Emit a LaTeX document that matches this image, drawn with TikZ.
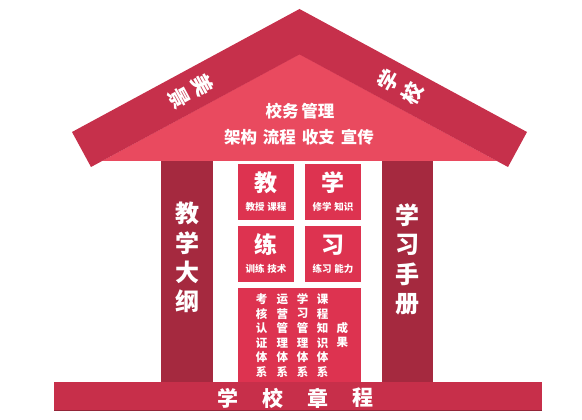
\documentclass[tikz,border=0pt]{standalone}
\usepackage{fontspec}
\newfontfamily\cjk{Noto Sans CJK SC}
\definecolor{roofband}{HTML}{C6304B}
\definecolor{rooflight}{HTML}{E94A5F}
\definecolor{pillar}{HTML}{A5293F}
\definecolor{boxred}{HTML}{DD3350}
\definecolor{basered}{HTML}{C72F4A}
\tikzset{
  txt/.style={text=white, inner sep=0pt, font=\cjk\bfseries},
  bigch/.style={txt, font=\cjk\bfseries\fontsize{23}{23}\selectfont},
  smallt/.style={txt, font=\cjk\bfseries\fontsize{9.5}{10}\selectfont},
  colch/.style={txt, font=\cjk\bfseries\fontsize{24}{24}\selectfont},
  roofch/.style={txt, align=center, font=\cjk\bfseries\fontsize{21}{27}\selectfont},
  rooft/.style={txt, font=\cjk\bfseries\fontsize{16.5}{17}\selectfont},
  gridch/.style={txt, font=\cjk\bfseries\fontsize{11.5}{11.5}\selectfont},
  basech/.style={txt, font=\cjk\bfseries\fontsize{21}{21}\selectfont},
  boxnode/.style={fill=boxred, minimum width=56pt, minimum height=56pt, inner sep=0pt, anchor=north west},
}
\begin{document}
\begin{tikzpicture}[x=1pt,y=-1pt]
\useasboundingbox (0,0) rectangle (582,420);
% roof light triangle
\fill[rooflight] (299.5,54) -- (102,161) -- (497,161) -- cycle;
% roof band
\fill[roofband] (72,132) -- (299.5,9) -- (527,132) -- (508,167) -- (299.5,54.4) -- (91,167) -- cycle;
% pillars
\fill[pillar] (161,161) rectangle (213,382);
\fill[pillar] (382,161) rectangle (433,382);
% middle boxes
\node[boxnode] (b1) at (238,164) {};
\node[boxnode] (b2) at (305,164) {};
\node[boxnode] (b3) at (238,226) {};
\node[boxnode] (b4) at (305,226) {};
\fill[boxred] (238,288) rectangle (361,382);
% base
\fill[basered] (54,382) rectangle (542,411);
\draw[color=pillar!90!black, line width=0.6pt] (54,410.7) -- (542,410.7);

% roof texts
\node[roofch, rotate=-61.5] (m) at (191,91.5) {美\\景};
\node[roofch, rotate=61.5] (x) at (400.5,86.5) {学\\校};
\node[rooft] (r1) at (300,111.5) {校务\,管理};
\node[rooft] (r2) at (299,137) {架构\hspace{6pt}流程\hspace{6pt}收支\hspace{6pt}宣传};

% pillar texts
\node[colch] (l1) at (187,213) {教};
\node[colch] (l2) at (187,243) {学};
\node[colch] (l3) at (187,272) {大};
\node[colch] (l4) at (187,301) {纲};
\node[colch] (p1) at (407.5,215) {学};
\node[colch] (p2) at (407.5,245) {习};
\node[colch] (p3) at (407.5,274) {手};
\node[colch] (p4) at (407.5,304) {册};

% box texts
\node[bigch] (t1) at (266,183) {教};
\node[smallt] (s1) at (266,207) {教授\hspace{3pt}课程};
\node[bigch] (t2) at (333,183) {学};
\node[smallt] (s2) at (333,207) {修学\hspace{3pt}知识};
\node[bigch] (t3) at (266,245) {练};
\node[smallt] (s3) at (266,268.5) {训练\hspace{3pt}技术};
\node[bigch] (t4) at (333,245) {习};
\node[smallt] (s4) at (333,268.5) {练习\hspace{3pt}能力};

% grid in bottom box
\foreach \ch [count=\i] in {考,核,认,证,体,系}
  \node[gridch] (ga\i) at (261.7,{299.3+14.5*(\i-1)}) {\ch};
\foreach \ch [count=\i] in {运,营,管,理,体,系}
  \node[gridch] (gb\i) at (282.3,{299.3+14.5*(\i-1)}) {\ch};
\foreach \ch [count=\i] in {学,习,管,理,体,系}
  \node[gridch] (gc\i) at (302.5,{299.3+14.5*(\i-1)}) {\ch};
\foreach \ch [count=\i] in {课,程,知,识,体,系}
  \node[gridch] (gd\i) at (322.7,{299.3+14.5*(\i-1)}) {\ch};
\node[gridch] (ge1) at (342.3,328.3) {成};
\node[gridch] (ge2) at (342.3,342.8) {果};

% base text
\node[basech] (c1) at (228,398) {学};
\node[basech] (c2) at (273,398) {校};
\node[basech] (c3) at (318,398) {章};
\node[basech] (c4) at (363,398) {程};
\end{tikzpicture}
\end{document}
